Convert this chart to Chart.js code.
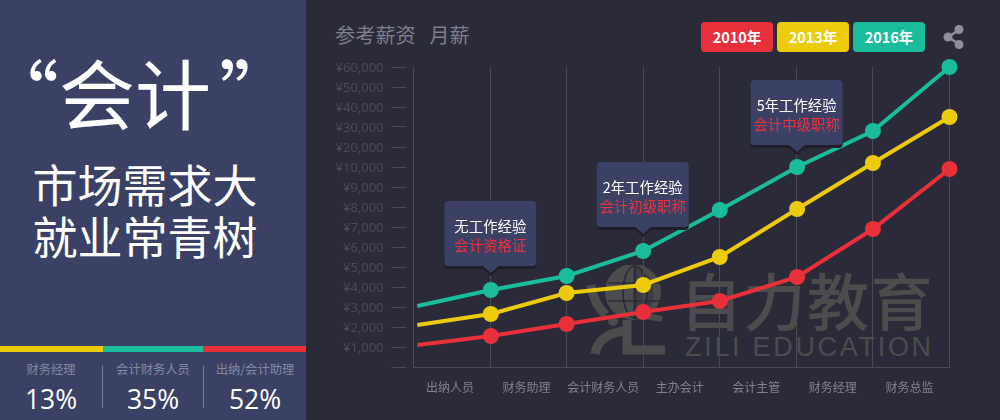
<!DOCTYPE html>
<html>
<head>
<meta charset="utf-8">
<script src="https://cdn.jsdelivr.net/npm/chart.js@4/dist/chart.umd.js"></script>
<style>
  html, body { margin: 0; padding: 0; }
  body { position: relative; width: 1000px; height: 420px; overflow: hidden; background: #2b2a38; font-family: "Noto Sans CJK SC", "Noto Sans", sans-serif; }
  .abs { position: absolute; white-space: nowrap; }
  #panel { position: absolute; left: 0; top: 0; width: 306px; height: 420px; background: #3a4165; color: #fff; }
  #bigTitle { left: -17px; top: 41px; width: 306px; text-align: center; font-size: 76px; line-height: 100px; font-weight: 400; }
  #bigTitle span { margin-left: 8px; }
  .slogan { left: 0; width: 290px; text-align: center; font-size: 45px; line-height: 52px; font-weight: 400; }
  .bar { position: absolute; top: 346px; height: 6px; }
  .divider { position: absolute; top: 366px; width: 1px; height: 42px; background: #7c819b; }
  .statName { top: 360px; width: 102px; text-align: center; font-size: 12.3px; line-height: 18px; color: #8389a3; }
  .statValue { top: 380px; width: 102px; text-align: center; font-family: "Open Sans", sans-serif; font-weight: 400; font-size: 26.5px; line-height: 38px; color: #fff; }
  #heading { left: 335px; top: 21px; font-size: 20.2px; line-height: 28px; color: #7f7e8c; word-spacing: 9px; }
  #legend .pill { position: absolute; top: 22px; width: 72px; height: 30px; border-radius: 4px; color: #fff; font-size: 14.5px; font-weight: 700; line-height: 30px; text-align: center; }
  #wmCn { left: 680px; top: 254px; font-size: 62px; line-height: 90px; font-weight: 500; letter-spacing: 1.5px; color: #4c4c4c; }
  #wmEn { left: 685px; top: 331px; font-family: "Liberation Sans", sans-serif; font-size: 27px; line-height: 32px; letter-spacing: 2.7px; color: #4c4c4c; }
  #chartBox { position: absolute; left: 306px; top: 0; width: 694px; height: 420px; }
</style>
</head>
<body>
<div id="panel">
  <div class="abs" id="bigTitle">“会计<span>”</span></div>
  <div class="abs slogan" style="top:158px">市场需求大</div>
  <div class="abs slogan" style="top:210px">就业常青树</div>
  <div class="bar" style="left:0;width:103px;background:#eccb0d"></div>
  <div class="bar" style="left:103px;width:100px;background:#1abc9c"></div>
  <div class="bar" style="left:203px;width:103px;background:#e8303a"></div>
  <div class="divider" style="left:102px"></div>
  <div class="divider" style="left:203px"></div>
  <div id="stats"></div>
</div>

<div class="abs" id="heading">参考薪资 月薪</div>
<div id="legend"></div>
<svg class="abs" style="left:942px;top:24px" width="24" height="26" viewBox="0 0 24 26">
  <path d="M17 6 L6 13 L17 20" fill="none" stroke="#8e8e9f" stroke-width="2.5"/>
  <circle cx="17" cy="5.5" r="4.5" fill="#8e8e9f"/>
  <circle cx="6" cy="13" r="4.5" fill="#8e8e9f"/>
  <circle cx="17" cy="20.5" r="4.5" fill="#8e8e9f"/>
</svg>

<!-- 水印 -->
<svg class="abs" style="left:580px;top:265px" width="105" height="100" viewBox="0 0 105 100">
  <circle cx="53" cy="27" r="28" fill="#4c4c4c"/>
  <g fill="none" stroke="#2b2a38" stroke-width="1.6">
    <ellipse cx="55" cy="27" rx="12" ry="26"/>
    <path d="M55 1 V53 M28 18 H81 M28 36 H81"/>
  </g>
  <path d="M53 1 A28 28 0 0 1 53 55 Z" fill="#2b2a38" opacity="0.45"/>
  <path d="M11 20 Q14 40 26 50" fill="none" stroke="#4c4c4c" stroke-width="9"/>
  <circle cx="33" cy="56" r="5" fill="#4c4c4c"/>
  <path d="M15 89 Q18 70 43 66" fill="none" stroke="#4c4c4c" stroke-width="9"/>
  <path d="M47 55 V85 H85" fill="none" stroke="#4c4c4c" stroke-width="9"/>
  <path d="M60 50 L82 54" fill="none" stroke="#4c4c4c" stroke-width="6"/>
</svg>
<div class="abs" id="wmCn">自力教育</div>
<div class="abs" id="wmEn">ZILI EDUCATION</div>

<div id="chartBox"><canvas id="salaryChart" width="694" height="420"></canvas></div>

<script>
// 数据
const xLabels = ["出纳人员", "财务助理", "会计财务人员", "主办会计", "会计主管", "财务经理", "财务总监"];
const xPositions = [0.05, 1.01, 2, 3, 4, 5.01, 6, 7];
const yTicks = [0, 1000, 2000, 3000, 4000, 5000, 6000, 7000, 8000, 9000, 10000, 20000, 30000, 40000, 50000, 60000];
const seriesNames = ["2010年", "2013年", "2016年"];
const seriesColors = ["#e8303a", "#eccb0d", "#1abc9c"];
const values2010 = [1100, 1550, 2150, 2750, 3300, 4500, 6900, 9900];
const values2013 = [2100, 2650, 3700, 4100, 5500, 7900, 12000, 35000];
const values2016 = [3050, 3850, 4550, 5800, 7850, 10000, 28000, 60000];

const statNames = ["财务经理", "会计财务人员", "出纳/会计助理"];
const statValues = ["13%", "35%", "52%"];

const calloutIndex = [1, 3, 5];
const calloutTop = ["无工作经验", "2年工作经验", "5年工作经验"];
const calloutBottom = ["会计资格证", "会计初级职称", "会计中级职称"];

// 左侧统计和图例
const statLeft = [0, 102, 204];
document.getElementById("stats").innerHTML = statNames.map((name, i) =>
  `<div class="abs statName" style="left:${statLeft[i]}px">${name}</div>` +
  `<div class="abs statValue" style="left:${statLeft[i]}px">${statValues[i]}</div>`
).join("");

const pillLeft = [701, 777, 853];
document.getElementById("legend").innerHTML = seriesNames.map((name, i) =>
  `<div class="pill" style="left:${pillLeft[i]}px;background:${seriesColors[i]}">${name}</div>`
).join("");

// y轴: 0-10000 每格1000, 10000以上每格10000
class SalaryScale extends Chart.LinearScale {
  buildTicks() {
    return yTicks.map((value) => ({ value }));
  }
  configure() {
    super.configure();
    this.min = 0;
    this.max = 60000;
  }
  toUnits(value) {
    return value <= 10000 ? value / 1000 : 10 + (value - 10000) / 10000;
  }
  getPixelForValue(value) {
    return this.getPixelForDecimal(this.toUnits(value) / 15);
  }
}
SalaryScale.id = "salary";
SalaryScale.defaults = Chart.LinearScale.defaults;
Chart.register(SalaryScale);

// 提示框
const calloutRise = [89, 89, 87];
const calloutPlugin = {
  id: "callouts",
  afterDatasetsDraw(chart) {
    const ctx = chart.ctx;
    const x = chart.scales.x;
    const y = chart.scales.y;
    calloutIndex.forEach((idx, i) => {
      const px = x.getPixelForValue(xPositions[idx]);
      const py = y.getPixelForValue(values2016[idx]);
      const left = px - 46.5;
      const top = py - calloutRise[i];
      const w = 92;
      const h = 65;
      ctx.save();
      [["#1f1e2a", 3], ["#3a4165", 0]].forEach(([color, dy]) => {
        ctx.fillStyle = color;
        ctx.beginPath();
        ctx.roundRect(left, top + dy, w, h, 4);
        ctx.fill();
        ctx.beginPath();
        ctx.moveTo(px - 9, top + h + dy - 1);
        ctx.lineTo(px, top + h + dy + 7);
        ctx.lineTo(px + 9, top + h + dy - 1);
        ctx.closePath();
        ctx.fill();
      });
      ctx.textAlign = "center";
      ctx.textBaseline = "middle";
      ctx.font = '14.4px "Noto Sans CJK SC"';
      ctx.fillStyle = "#ffffff";
      ctx.fillText(calloutTop[i], px - 0.5, top + 26);
      ctx.fillStyle = "#f0303c";
      ctx.fillText(calloutBottom[i], px - 0.5, top + 45);
      ctx.restore();
    });
  }
};

const makeDataset = (name, values, color) => ({
  label: name,
  data: values.map((v, i) => ({ x: xPositions[i], y: v })),
  borderColor: color,
  backgroundColor: color,
  borderWidth: 4,
  tension: 0,
  clip: false,
  pointRadius: (c) => (c.dataIndex === 0 ? 0 : 8),
  pointHoverRadius: 8,
  pointBorderWidth: 0
});

const gridColor = "#4a4956";

new Chart(document.getElementById("salaryChart").getContext("2d"), {
  type: "line",
  data: {
    datasets: [
      makeDataset(seriesNames[2], values2016, seriesColors[2]),
      makeDataset(seriesNames[1], values2013, seriesColors[1]),
      makeDataset(seriesNames[0], values2010, seriesColors[0])
    ]
  },
  options: {
    responsive: false,
    animation: false,
    layout: { autoPadding: false, padding: { top: 67, right: 50.5, left: 0, bottom: 0 } },
    plugins: { legend: { display: false }, tooltip: { enabled: false } },
    scales: {
      x: {
        type: "linear",
        min: 0,
        max: 7,
        afterFit: (scale) => { scale.height = 53; },
        border: { color: gridColor, width: 1 },
        grid: { color: gridColor, drawTicks: false },
        ticks: {
          stepSize: 1,
          autoSkip: false,
          maxRotation: 0,
          padding: 13,
          labelOffset: 36.5,
          color: "#82828f",
          font: { family: '"Noto Sans CJK SC"', size: 12 },
          callback: (value) => xLabels[value] || ""
        }
      },
      y: {
        type: "salary",
        afterFit: (scale) => { scale.width = 107.5; },
        border: { display: false },
        grid: {
          drawOnChartArea: false,
          color: gridColor,
          tickLength: 22,
          tickBorderDash: [15, 7]
        },
        ticks: {
          autoSkip: false,
          padding: 8,
          labelOffset: 1.5,
          color: "#4b4a59",
          font: { family: '"Open Sans"', size: 13 },
          callback: (value) => (value === 0 ? "" : "¥" + value.toLocaleString("en-US"))
        }
      }
    }
  },
  plugins: [calloutPlugin]
});
</script>
</body>
</html>
